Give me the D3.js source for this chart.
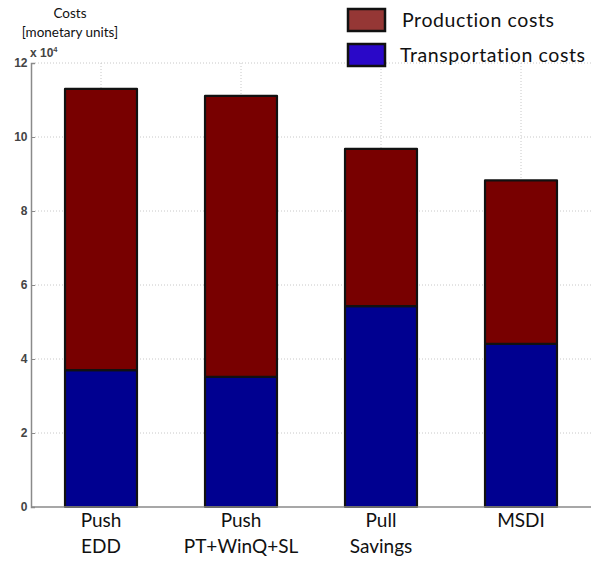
<!DOCTYPE html>
<html>
<head>
<meta charset="utf-8">
<script src="https://cdn.jsdelivr.net/npm/d3@7"></script>
<style>
  body { margin: 0; background: #fff; }
  svg { display: block; }
</style>
</head>
<body>
<div id="chart"></div>
<script>
// values, in monetary units
const categories = ["Push|EDD", "Push|PT+WinQ+SL", "Pull|Savings", "MSDI"];
const transportCosts = [37000, 35200, 54300, 44100];
const productionCosts = [76000, 75900, 42500, 44200];
const yTicks = [0, 20000, 40000, 60000, 80000, 100000, 120000];
const seriesNames = ["Production costs", "Transportation costs"];

const width = 594;
const height = 561;
const plotLeft = 31, plotRight = 591, plotTop = 63, plotBottom = 507;

const barColors = { transport: "#000090", production: "#780000" };
const legendColors = { "Production costs": "#953735", "Transportation costs": "#2a08c8" };

const rows = categories.map((c, i) => ({
  cat: c,
  transport: transportCosts[i],
  production: productionCosts[i]
}));

const svg = d3.select("#chart")
  .append("svg")
  .attr("width", width)
  .attr("height", height);

const x = d3.scaleBand()
  .domain(categories)
  .range([plotLeft, plotRight])
  .paddingInner(0.486)
  .paddingOuter(0.243);

const y = d3.scaleLinear()
  .domain([0, 120000])
  .range([plotBottom, plotTop]);

// dotted grid
svg.append("g")
  .selectAll("line")
  .data(yTicks.slice(1))
  .enter()
  .append("line")
  .attr("x1", plotLeft + 4)
  .attr("x2", plotRight)
  .attr("y1", d => y(d))
  .attr("y2", d => y(d))
  .attr("stroke", "#c8c8c8")
  .attr("stroke-width", 1)
  .attr("stroke-dasharray", "1,2");

svg.append("g")
  .selectAll("line")
  .data(categories)
  .enter()
  .append("line")
  .attr("x1", d => x(d) + x.bandwidth() / 2)
  .attr("x2", d => x(d) + x.bandwidth() / 2)
  .attr("y1", y(120000))
  .attr("y2", plotBottom)
  .attr("stroke", "#c8c8c8")
  .attr("stroke-width", 1)
  .attr("stroke-dasharray", "1,2");

// stacked bars
const stacked = d3.stack().keys(["transport", "production"])(rows);

svg.append("g")
  .selectAll("g")
  .data(stacked)
  .enter()
  .append("g")
  .attr("fill", d => barColors[d.key])
  .selectAll("rect")
  .data(d => d)
  .enter()
  .append("rect")
  .attr("x", d => x(d.data.cat))
  .attr("width", x.bandwidth())
  .attr("y", d => y(d[1]))
  .attr("height", d => y(d[0]) - y(d[1]))
  .attr("stroke", "#111")
  .attr("stroke-width", 2.2)
  .attr("stroke-linejoin", "round");

// axes
const yAxis = svg.append("g")
  .attr("transform", `translate(${plotLeft},0)`)
  .call(d3.axisLeft(y).tickValues(yTicks).tickSize(-4).tickPadding(3.5).tickFormat(d => d / 10000));
yAxis.select(".domain").attr("stroke", "#8a8a8a").attr("stroke-width", 1.5);
yAxis.selectAll(".tick line").attr("stroke", "#8a8a8a");
yAxis.selectAll(".tick text")
  .attr("fill", "#444")
  .style("font-family", "'Liberation Sans', Arial, sans-serif")
  .style("font-size", "12px")
  .style("font-weight", "bold");

svg.append("line")
  .attr("x1", plotLeft)
  .attr("x2", plotRight)
  .attr("y1", plotBottom)
  .attr("y2", plotBottom)
  .attr("stroke", "#8a8a8a")
  .attr("stroke-width", 1.5);

// x category labels
const xl = svg.append("g")
  .selectAll("text")
  .data(categories)
  .enter()
  .append("text")
  .attr("x", d => x(d) + x.bandwidth() / 2)
  .attr("y", 527)
  .attr("text-anchor", "middle")
  .style("font-family", "Lato, 'Open Sans', sans-serif")
  .style("font-size", "19px")
  .attr("fill", "#111");
xl.selectAll("tspan")
  .data(d => d.split("|"))
  .enter()
  .append("tspan")
  .attr("x", function () { return d3.select(this.parentNode).attr("x"); })
  .attr("dy", (d, i) => i === 0 ? 0 : 26)
  .text(d => d);

// multiplier
const mult = svg.append("text")
  .attr("x", 30)
  .attr("y", 57)
  .attr("fill", "#444")
  .style("font-family", "'Liberation Sans', Arial, sans-serif")
  .style("font-size", "12px")
  .style("font-weight", "bold");
mult.append("tspan").text("x 10");
mult.append("tspan").attr("dy", -5).style("font-size", "7.5px").text("4");

// axis title
svg.append("text")
  .attr("x", 70)
  .attr("y", 18)
  .attr("text-anchor", "middle")
  .style("font-family", "Lato, 'Open Sans', sans-serif")
  .style("font-size", "13.5px")
  .attr("fill", "#111")
  .text("Costs");
svg.append("text")
  .attr("x", 70)
  .attr("y", 37)
  .attr("text-anchor", "middle")
  .style("font-family", "Lato, 'Open Sans', sans-serif")
  .style("font-size", "13.5px")
  .attr("fill", "#111")
  .text("[monetary units]");

// legend
const legend = svg.append("g")
  .selectAll("g")
  .data(seriesNames)
  .enter()
  .append("g")
  .attr("transform", (d, i) => `translate(348,${9 + i * 35})`);
legend.append("rect")
  .attr("width", 37)
  .attr("height", 22)
  .attr("fill", d => legendColors[d])
  .attr("stroke", "#111")
  .attr("stroke-width", 2.5);
legend.append("text")
  .attr("x", (d, i) => i === 0 ? 54 : 52)
  .attr("y", 18)
  .style("font-family", "Lato, 'Open Sans', sans-serif")
  .style("font-size", "19.5px")
  .style("letter-spacing", "0.6px")
  .attr("fill", "#111")
  .text(d => d);
</script>
</body>
</html>
